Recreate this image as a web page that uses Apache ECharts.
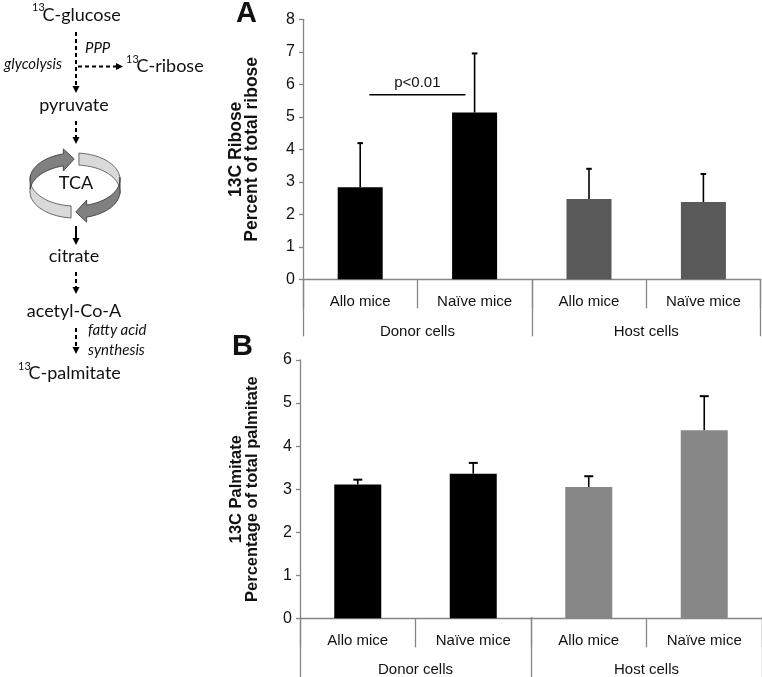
<!DOCTYPE html>
<html><head><meta charset="utf-8">
<script src="https://cdn.jsdelivr.net/npm/echarts@6/dist/echarts.min.js"></script>
<style>html,body{margin:0;padding:0;background:#fff}#c{width:762px;height:677px}</style>
</head><body><div id="c"></div>
<script>
// ---- data ----
const subCategories = ['Allo mice', 'Naïve mice', 'Allo mice', 'Naïve mice'];
const groupCategories = ['Donor cells', 'Host cells'];
const riboseMean = [2.83, 5.13, 2.47, 2.38];
const riboseErr = [1.36, 1.82, 0.93, 0.86];
const palmitateMean = [3.11, 3.36, 3.05, 4.37];
const palmitateErr = [0.11, 0.25, 0.25, 0.79];
const riboseColors = ['#000000', '#000000', '#595959', '#595959'];
const palmitateColors = ['#000000', '#000000', '#878787', '#878787'];
const riboseAxis = { min: 0, max: 8, interval: 1 };
const palmitateAxis = { min: 0, max: 6, interval: 1 };
const riboseName = '13C Ribose\nPercent of total ribose';
const palmitateName = '13C Palmitate\nPercentage of total palmitate';
const sigFrom = 0, sigTo = 1, sigValue = 5.68, sigLabel = 'p<0.01';

// ---- styling ----
const AX = '#868686';
const FONT = 'Liberation Sans';
const DFONT = 'Lato';

const gridA = { left: 303, top: 19.3, width: 457.6, height: 260 };
const gridB = { left: 300, top: 360, width: 466, height: 258.3 };

function subAxis(gi, margin) {
  return {
    type: 'category', gridIndex: gi, data: subCategories, position: 'bottom',
    axisLine: { show: true, lineStyle: { color: AX, width: 1.3 } },
    axisTick: { show: true, interval: 0, length: 29, lineStyle: { color: AX, width: 1.3 } },
    axisLabel: { interval: 0, margin: margin, color: '#111', fontSize: 15, fontFamily: FONT }
  };
}
function groupAxis(gi, len, margin) {
  return {
    type: 'category', gridIndex: gi, data: groupCategories, position: 'bottom',
    axisLine: { show: false },
    axisTick: { show: true, interval: 0, length: len, lineStyle: { color: AX, width: 1.3 } },
    axisLabel: { interval: 0, margin: margin, color: '#111', fontSize: 15, fontFamily: FONT }
  };
}
function valAxis(gi, ax, name, gap, nameSize) {
  return {
    type: 'value', gridIndex: gi, min: ax.min, max: ax.max, interval: ax.interval,
    axisLine: { show: true, lineStyle: { color: AX, width: 1.3 } },
    axisTick: { show: true, length: 4, lineStyle: { color: AX, width: 1.3 } },
    splitLine: { show: false },
    axisLabel: { margin: 8, color: '#111', fontSize: 16, fontFamily: FONT },
    name: name, nameLocation: 'middle', nameRotate: 90, nameGap: gap,
    nameTextStyle: { fontSize: nameSize, fontWeight: 'bold', fontFamily: FONT, color: '#111', lineHeight: 16 }
  };
}
function hiddenVal(gi) {
  return { type: 'value', gridIndex: gi, min: 0, max: 1, show: false };
}
function barSeries(xi, yi, vals, colors, bw) {
  return {
    type: 'bar', xAxisIndex: xi, yAxisIndex: yi, barWidth: bw,
    data: vals.map((v, i) => ({ value: v, itemStyle: { color: colors[i] } })),
    silent: true
  };
}
function errSeries(xi, yi, means, errs, cap) {
  return {
    type: 'custom', xAxisIndex: xi, yAxisIndex: yi, z: 5, silent: true,
    data: means.map((m, i) => [i, m, m + errs[i]]),
    encode: { x: 0, y: [1, 2] },
    renderItem: function (params, api) {
      const i = api.value(0);
      const p0 = api.coord([i, api.value(1)]);
      const p1 = api.coord([i, api.value(2)]);
      return {
        type: 'group', children: [
          { type: 'line', shape: { x1: p0[0], y1: p0[1], x2: p1[0], y2: p1[1] }, style: { stroke: '#000', lineWidth: 1.6 } },
          { type: 'line', shape: { x1: p1[0] - cap, y1: p1[1], x2: p1[0] + cap, y2: p1[1] }, style: { stroke: '#000', lineWidth: 2 } }
        ]
      };
    }
  };
}
const sigSeries = {
  type: 'custom', xAxisIndex: 0, yAxisIndex: 0, z: 6, silent: true,
  data: [[sigFrom, sigTo, sigValue]],
  encode: { x: [0, 1], y: 2 },
  renderItem: function (params, api) {
    const a = api.coord([api.value(0), api.value(2)]);
    const b = api.coord([api.value(1), api.value(2)]);
    const bw = api.size([1, 0])[0];
    const x1 = a[0] + bw * 0.08, x2 = b[0] - bw * 0.08;
    return {
      type: 'group', children: [
        { type: 'line', shape: { x1: x1, y1: a[1], x2: x2, y2: a[1] }, style: { stroke: '#000', lineWidth: 1.4 } },
        { type: 'text', x: (x1 + x2) / 2, y: a[1] - 12, style: { text: sigLabel, align: 'center', verticalAlign: 'middle', font: '15px ' + FONT, fill: '#111' } }
      ]
    };
  }
};

// ---- pathway diagram (decoration) ----
const G = [];
function txt(x, y, s, size, opts) {
  opts = opts || {};
  G.push({ type: 'text', x: x, y: y, silent: true, style: {
    text: s, fill: '#111', align: opts.align || 'left', verticalAlign: 'middle',
    font: (opts.italic ? 'italic ' : '') + (opts.bold ? 'bold ' : '') + size + 'px ' + (opts.family || DFONT)
  } });
}
function vArrow(x, y1, y2, dashed) {
  G.push({ type: 'line', silent: true, shape: { x1: x, y1: y1, x2: x, y2: y2 - 5 }, style: { stroke: '#000', lineWidth: 2, lineDash: dashed ? [4, 3] : null } });
  G.push({ type: 'polygon', silent: true, shape: { points: [[x - 3.5, y2 - 7], [x + 3.5, y2 - 7], [x, y2]] }, style: { fill: '#000' } });
}
function hArrow(y, x1, x2) {
  G.push({ type: 'line', silent: true, shape: { x1: x1, y1: y, x2: x2 - 5, y2: y }, style: { stroke: '#000', lineWidth: 2, lineDash: [4, 3] } });
  G.push({ type: 'polygon', silent: true, shape: { points: [[x2 - 7, y - 3.5], [x2 - 7, y + 3.5], [x2, y]] }, style: { fill: '#000' } });
}
// TCA ring
const RC = { cx: 75, cy: 179.5, rx: 45, ry: 26.5, h: 12 };
function E(tDeg) { const t = tDeg * Math.PI / 180; return [RC.cx + RC.rx * Math.cos(t), RC.cy + RC.ry * Math.sin(t)]; }
function ringSeg(t1, t2, tip, fill, stroke) {
  const top = [], bot = [];
  const n = 24;
  for (let k = 0; k <= n; k++) {
    const t = t1 + (t2 - t1) * k / n;
    const p = E(t);
    top.push([p[0], p[1]]);
    bot.push([p[0], p[1] + RC.h]);
  }
  let pts = top.slice();
  if (tip != null) {
    const b = E(t2), tp = E(tip);
    pts.push([b[0], b[1] - 5]);
    pts.push([tp[0], tp[1] + RC.h / 2]);
    pts.push([b[0], b[1] + RC.h + 5]);
  }
  pts = pts.concat(bot.reverse());
  G.push({ type: 'polygon', silent: true, shape: { points: pts }, style: { fill: fill, stroke: stroke, lineWidth: 0.9 } });
}

txt(32, 7, '13', 11);
txt(42.5, 15, 'C-glucose', 18);
vArrow(76, 32, 93, true);
txt(85, 48, 'PPP', 15, { italic: true });
txt(62, 64, 'glycolysis', 15, { italic: true, align: 'right' });
hArrow(66.5, 78, 123);
txt(126, 59, '13', 11);
txt(136.5, 66, 'C-ribose', 18);
txt(74, 105, 'pyruvate', 18, { align: 'center' });
vArrow(76, 121, 144, true);
ringSeg(95, 190, null, '#d9d9d9', '#5a5a5a');
ringSeg(275, 365, null, '#d9d9d9', '#5a5a5a');
ringSeg(185, 255, 269, '#808080', '#3c3c3c');
ringSeg(-5, 75, 89, '#808080', '#3c3c3c');
txt(76, 183, 'TCA', 18, { align: 'center' });
vArrow(76, 226, 245, false);
txt(74, 256, 'citrate', 18, { align: 'center' });
vArrow(76, 272, 294, true);
txt(74, 311, 'acetyl-Co-A', 18, { align: 'center' });
vArrow(76, 328, 354, true);
txt(88, 330, 'fatty acid', 15, { italic: true });
txt(88, 350, 'synthesis', 15, { italic: true });
txt(18, 366, '13', 11);
txt(28.5, 373, 'C-palmitate', 18);
// panel letters
txt(236, 14, 'A', 29, { bold: true, family: FONT });
txt(232, 347, 'B', 29, { bold: true, family: FONT });

const chart = echarts.init(document.getElementById('c'), null, { renderer: 'canvas' });
chart.setOption({
  animation: false,
  backgroundColor: '#fff',
  grid: [
    Object.assign({ containLabel: false }, gridA),
    Object.assign({ containLabel: false }, gridA),
    Object.assign({ containLabel: false }, gridB),
    Object.assign({ containLabel: false }, gridB)
  ],
  xAxis: [subAxis(0, 15), groupAxis(1, 57, 45), subAxis(2, 15), groupAxis(3, 62, 45)],
  yAxis: [valAxis(0, riboseAxis, riboseName, 43, 17.5), hiddenVal(1), valAxis(2, palmitateAxis, palmitateName, 40, 16.5), hiddenVal(3)],
  series: [
    barSeries(0, 0, riboseMean, riboseColors, 45),
    errSeries(0, 0, riboseMean, riboseErr, 2.8),
    sigSeries,
    barSeries(2, 2, palmitateMean, palmitateColors, 47),
    errSeries(2, 2, palmitateMean, palmitateErr, 4.5)
  ],
  graphic: G
});
</script>
</body></html>
